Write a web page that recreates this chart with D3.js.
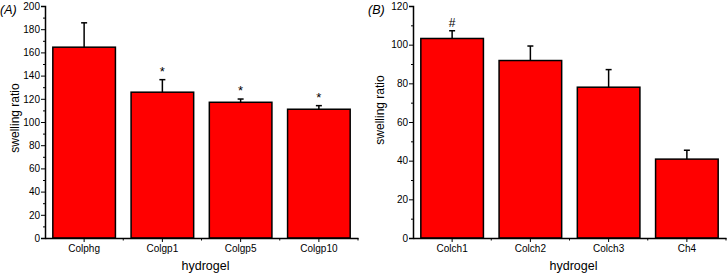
<!DOCTYPE html>
<html><head><meta charset="utf-8">
<script src="https://cdn.jsdelivr.net/npm/d3@7"></script>
<style>body{margin:0;background:#fff}svg{display:block;font-family:"Liberation Sans",Arial,sans-serif}</style>
</head><body><svg id="c" width="728" height="273"></svg>
<script>
const catsA = ["Colphg","Colgp1","Colgp5","Colgp10"];
const valsA = [164.5,125.7,117,111];
const errA  = [21,10.8,2.8,3.1];
const markA = ["","*","*","*"];
const ticksA = [0,20,40,60,80,100,120,140,160,180,200];

const catsB = ["Colch1","Colch2","Colch3","Ch4"];
const valsB = [103.2,91.8,78,40.8];
const errB  = [4,7.5,9.1,4.6];
const markB = ["#","","",""];
const ticksB = [0,20,40,60,80,100,120];

const svg = d3.select("#c");

function panel(o){
  const g = svg.append("g");
  const x = d3.scaleBand().domain(o.cats).range([o.x0,o.x1]).paddingInner(0.2).paddingOuter(0.1);
  const y = d3.scaleLinear().domain([0,o.max]).range([o.y0,o.y1]);
  // bars
  g.selectAll("rect.bar").data(o.vals).enter().append("rect")
    .attr("x",(d,i)=>x(o.cats[i])).attr("width",x.bandwidth())
    .attr("y",d=>y(d)).attr("height",d=>y(0)-y(d))
    .attr("fill","#ff0000").attr("stroke","#000").attr("stroke-width",1.5);
  // error bars
  o.vals.forEach((v,i)=>{
    const cx = x(o.cats[i])+x.bandwidth()/2;
    g.append("line").attr("x1",cx).attr("x2",cx).attr("y1",y(v)).attr("y2",y(v+o.err[i])).attr("stroke","#000").attr("stroke-width",1.5);
    g.append("line").attr("x1",cx-3).attr("x2",cx+3).attr("y1",y(v+o.err[i])).attr("y2",y(v+o.err[i])).attr("stroke","#000").attr("stroke-width",1.5);
    if(o.marks[i]) g.append("text").attr("x",cx).attr("y",y(v+o.err[i])-4).attr("text-anchor","middle")
      .attr("font-size",o.marks[i]=="#"?12:13).text(o.marks[i]);
  });
  // y axis
  const yaxis = g.append("g").attr("transform",`translate(${o.x0},0)`)
    .call(d3.axisLeft(y).tickValues(o.ticks).tickSize(4).tickPadding(1).tickFormat(d3.format("d")));
  const minor = d3.range(10,o.max,20);
  g.append("g").attr("transform",`translate(${o.x0},0)`)
    .call(d3.axisLeft(y).tickValues(minor).tickSize(2).tickFormat(""))
    .call(a=>a.select(".domain").remove());
  // x axis
  const xaxis = g.append("g").attr("transform",`translate(0,${o.y0})`)
    .call(d3.axisBottom(x).tickSize(4).tickPadding(3).tickSizeOuter(0));
  const step = x.step();
  const bounds = o.cats.slice(1).map((c,i)=>x(c)-(step-x.bandwidth())/2);
  bounds.forEach(bx=>g.append("line").attr("x1",bx).attr("x2",bx).attr("y1",o.y0).attr("y2",o.y0+2.5).attr("stroke","#000"));
  g.append("line").attr("x1",o.x1).attr("x2",o.x1).attr("y1",o.y0).attr("y2",o.y0+2.5).attr("stroke","#000");
  [yaxis,xaxis].forEach(a=>{
    a.select(".domain").attr("stroke-width",1.5);
    a.selectAll("text").attr("font-size",10).attr("font-family","Liberation Sans, Arial, sans-serif").attr("fill","#000");
  });
  // labels
  g.append("text").attr("transform",`translate(${o.ylx},${o.yly}) rotate(-90)`).attr("text-anchor","middle")
    .attr("font-size",12).text("swelling ratio");
  g.append("text").attr("x",(o.x0+o.x1)/2+4).attr("y",270).attr("text-anchor","middle").attr("font-size",12.5).text("hydrogel");
  g.append("text").attr("x",o.px).attr("y",14).attr("font-size",12.5).attr("font-style","italic").text(o.tag);
}

panel({cats:catsA,vals:valsA,err:errA,marks:markA,ticks:ticksA,max:200,x0:45,x1:358,y0:238,y1:6,ylx:19,yly:118,px:0,tag:"(A)"});
panel({cats:catsB,vals:valsB,err:errB,marks:markB,ticks:ticksB,max:120,x0:413,x1:726,y0:238,y1:6,ylx:384,yly:110,px:368,tag:"(B)"});
</script></body></html>
